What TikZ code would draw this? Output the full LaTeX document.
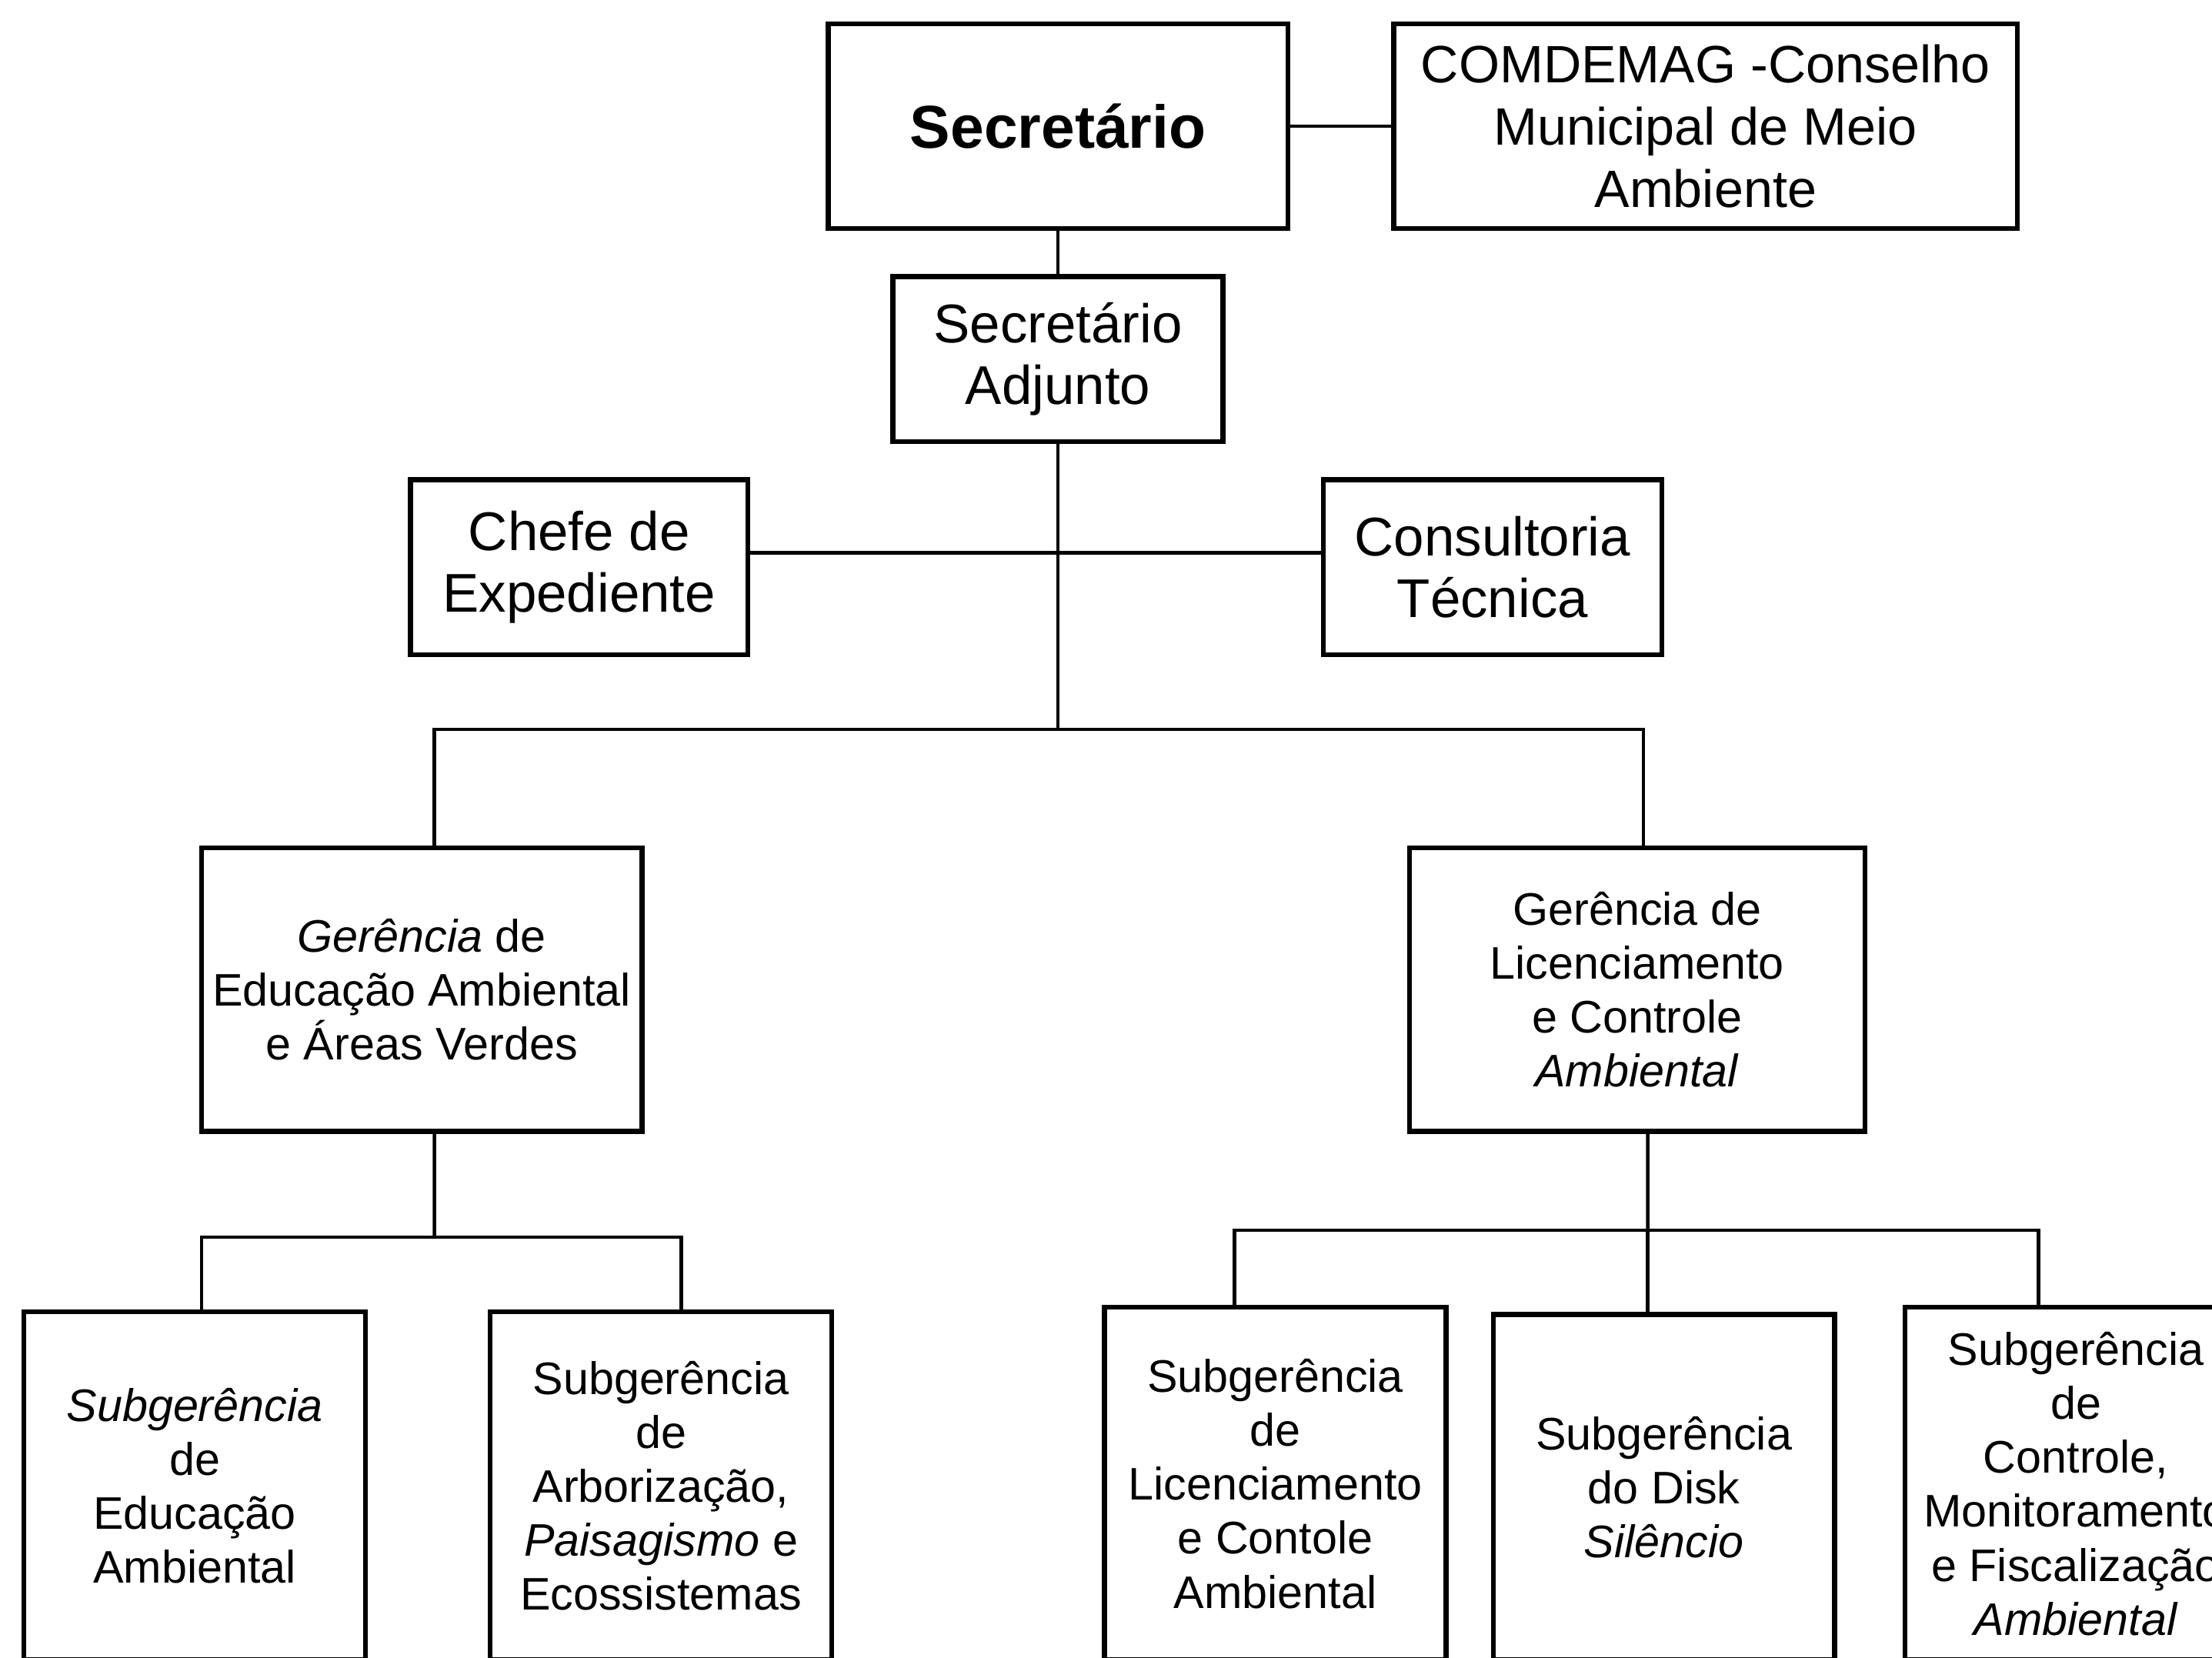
\documentclass[tikz,border=0pt]{standalone}
\usepackage{fontspec}
\setmainfont{Liberation Sans}
\begin{document}
\begin{tikzpicture}[
	caixa/.style={draw, line width=1pt, align=center, inner sep=1pt},
	topo/.style={caixa, font=\fontsize{11}{12.5}\selectfont},
	baixo/.style={caixa, font=\fontsize{9.2}{10.9}\selectfont},
	sub/.style={baixo, anchor=north, minimum width=2.42cm},
	linha/.style={line width=0.7pt}
]
	\useasboundingbox (0,0) rectangle (15.68,11.75);
	\clip (0,0) rectangle (15.68,11.75);
	\node[topo, minimum width=3.26cm, minimum height=1.45cm, font=\fontsize{12.2}{14}\selectfont\bfseries] (sec) at (7.50,10.855) {Secretário};%Secretario
	\node[topo, minimum width=4.42cm, minimum height=1.45cm, font=\fontsize{10.6}{12.5}\selectfont] (comdemag) at (12.09,10.855) {COMDEMAG -Conselho\\Municipal de Meio\\Ambiente};%Conselho
	\node[topo, minimum width=2.34cm, minimum height=1.17cm] (adj) at (7.50,9.205) {Secretário\\Adjunto};%Adjunto
	\node[topo, minimum width=2.39cm, minimum height=1.24cm] (chefe) at (4.105,7.73) {Chefe de\\Expediente};%links
	\node[topo, minimum width=2.40cm, minimum height=1.24cm] (cons) at (10.58,7.73) {Consultoria\\Técnica};%rechts
	\node[baixo, minimum width=3.12cm, minimum height=2.01cm] (gea) at (2.99,4.735) {\textit{Gerência} de\\Educação Ambiental\\e Áreas Verdes};%Gerencia links
	\node[baixo, minimum width=3.23cm, minimum height=2.01cm] (glc) at (11.605,4.735) {Gerência de\\Licenciamento\\e Controle\\\textit{Ambiental}};%Gerencia rechts
	\coordinate (bus) at (7.50,6.58);
	\coordinate (lbus) at (3.08,2.98);
	\coordinate (rbus) at (11.68,3.03);
	\node[sub, minimum height=2.47cm] (sea) at (1.38,2.47) {\textit{Subgerência}\\de\\Educação\\Ambiental};
	\node[sub, minimum height=2.47cm] (sap) at (4.685,2.47) {Subgerência\\de\\Arborização,\\\textit{Paisagismo} e\\Ecossistemas};
	\node[sub, minimum height=2.50cm] (slc) at (9.04,2.50) {Subgerência\\de\\Licenciamento\\e Contole\\Ambiental};
	\node[sub, minimum height=2.45cm] (sdisk) at (11.795,2.45) {Subgerência\\do Disk\\\textit{Silêncio}};
	\node[sub, minimum height=2.50cm] (sctrl) at (14.715,2.50) {Subgerência\\de\\Controle,\\Monitoramento\\e Fiscalização\\\textit{Ambiental}};
	\draw[linha] (sec.east) -- (comdemag.west);%horizontal oben
	\draw[linha] (sec.south) -- (adj.north);
	\draw[linha] ([yshift=1mm]chefe.east) -- ([yshift=1mm]cons.west);
	\draw[linha] (adj.south) -- (bus);
	\draw[linha] ([xshift=0.9mm]gea.north) |- (bus) -| ([xshift=0.45mm]glc.north);
	\draw[linha] ([xshift=0.9mm]gea.south) -- (lbus);
	\draw[linha] ([xshift=0.5mm]sea.north) |- (lbus) -| ([xshift=1.45mm]sap.north);
	\draw[linha] ([xshift=0.75mm]glc.south) -- (rbus);
	\draw[linha] ([xshift=-2.9mm]slc.north) |- (rbus) -| ([xshift=-2.65mm]sctrl.north);
	\draw[linha] (rbus |- sdisk.north) -- (rbus);
\end{tikzpicture}
\end{document}
